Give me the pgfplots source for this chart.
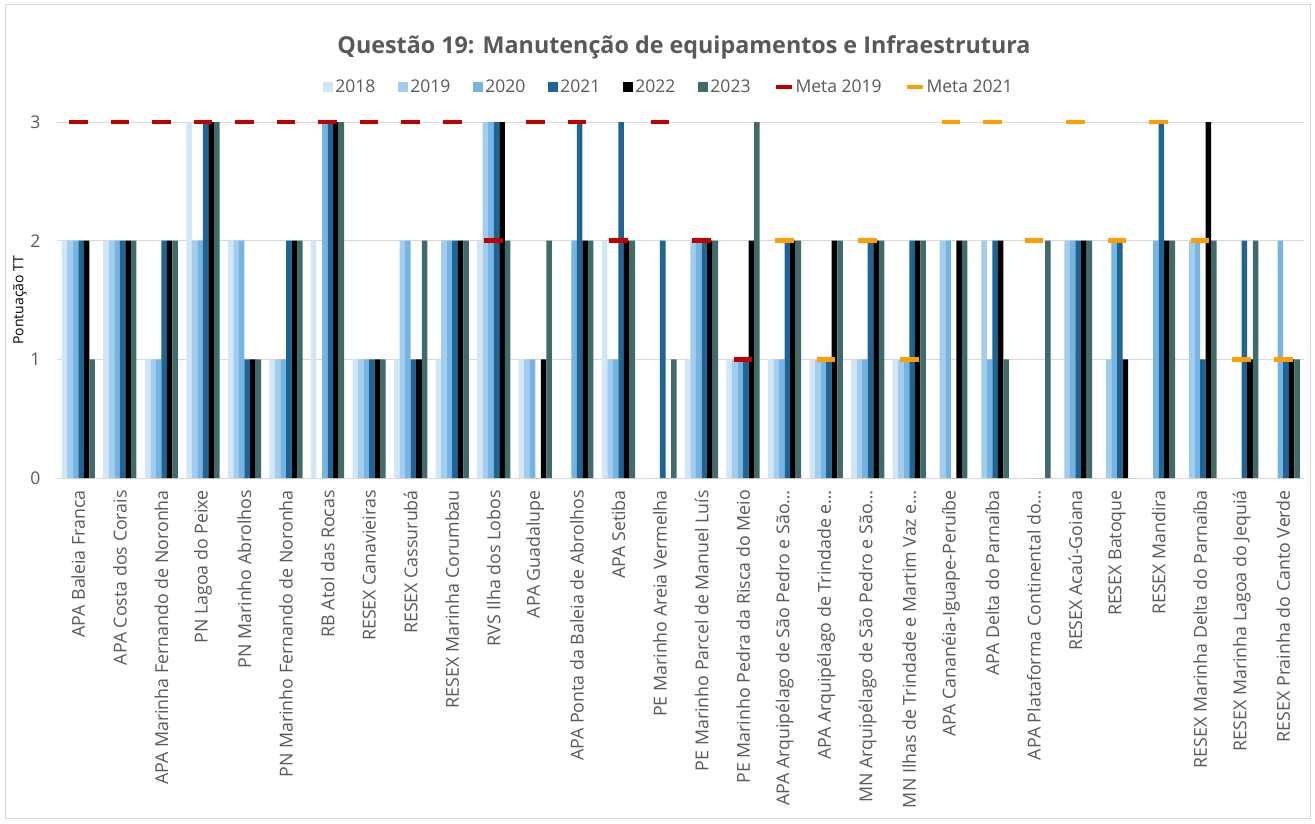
\documentclass[border=0pt]{standalone}
\usepackage{fontspec}
\setmainfont{Open Sans}
\usepackage{pgfplots}
\usepackage{pgfplotstable}
\pgfplotsset{compat=1.18}
\definecolor{c18}{HTML}{D2E6F5}
\definecolor{c19}{HTML}{A3CDEE}
\definecolor{c20}{HTML}{76B4E2}
\definecolor{c21}{HTML}{1F6496}
\definecolor{c22}{HTML}{000000}
\definecolor{c23}{HTML}{406B69}
\definecolor{mred}{HTML}{C00000}
\definecolor{morange}{HTML}{FF9E00}
\definecolor{txt}{HTML}{595959}
\definecolor{gridc}{HTML}{D9D9D9}
\pgfplotstableread{
idx y18 y19 y20 y21 y22 y23
0 2 2 2 2 2 1
1 2 2 2 2 2 2
2 1 1 1 2 2 2
3 3 2 2 3 3 3
4 2 2 2 1 1 1
5 1 1 1 2 2 2
6 2 0 3 3 3 3
7 1 1 1 1 1 1
8 1 2 2 1 1 2
9 1 2 2 2 2 2
10 2 3 3 3 3 2
11 1 1 1 0 1 2
12 0 0 2 3 2 2
13 2 1 1 3 2 2
14 0 0 0 2 0 1
15 1 2 2 2 2 2
16 1 1 1 1 2 3
17 1 1 1 2 2 2
18 1 1 1 1 2 2
19 1 1 1 2 2 2
20 1 1 1 2 2 2
21 0 2 2 0 2 2
22 0 2 1 2 2 1
23 0 0 0 0 0 2
24 0 2 2 2 2 2
25 0 1 2 2 1 0
26 0 0 2 3 2 2
27 0 2 2 1 3 2
28 0 0 0 2 1 2
29 0 0 2 1 1 1
}\data
\pgfplotstableread{
idx m
0 3
1 3
2 3
3 3
4 3
5 3
6 3
7 3
8 3
9 3
10 2
11 3
12 3
13 2
14 3
15 2
16 1
}\metaA
\pgfplotstableread{
idx m
17 2
18 1
19 2
20 1
21 3
22 3
23 2
24 3
25 2
26 3
27 2
28 1
29 1
}\metaB
\begin{document}
\begin{tikzpicture}[x=1pt,y=1pt]
\path (0,0) rectangle (1315,823);
\draw[gridc, line width=1pt] (5.5,4.5) rectangle (1310.5,818.5);
\begin{axis}[
  at={(57.5pt,345pt)}, anchor=south west,
  scale only axis, width=1246.5pt, height=356pt,
  xmin=-0.5, xmax=29.5, ymin=0, ymax=3,
  clip=false,
  axis line style={draw=none},
  ymajorgrids, grid style={gridc, line width=1pt},
  xtick={0,...,29},
  xticklabels={APA Baleia Franca, APA Costa dos Corais, APA Marinha Fernando de Noronha, PN Lagoa do Peixe, PN Marinho Abrolhos, PN Marinho Fernando de Noronha, RB Atol das Rocas, RESEX Canavieiras, RESEX Cassurubá, RESEX Marinha Corumbau, RVS Ilha dos Lobos, APA Guadalupe, APA Ponta da Baleia de Abrolhos, APA Setiba, PE Marinho Areia Vermelha, PE Marinho Parcel de Manuel Luís, PE Marinho Pedra da Risca do Meio, APA Arquipélago de São Pedro e São…, APA Arquipélago de Trindade e…, MN Arquipélago de São Pedro e São…, MN Ilhas de Trindade e Martim Vaz e…, APA Cananéia-Iguape-Peruíbe, APA Delta do Parnaíba, APA Plataforma Continental do…, RESEX Acaú-Goiana, RESEX Batoque, RESEX Mandira, RESEX Marinha Delta do Parnaíba, RESEX Marinha Lagoa do Jequiá, RESEX Prainha do Canto Verde},
  xtick style={draw=none}, ytick style={draw=none},
  xticklabel style={rotate=90, anchor=east, font=\fontsize{17.8}{20}\selectfont, text=txt, inner sep=0pt},
  xticklabel shift=12pt,
  ytick={0,1,2,3},
  yticklabel style={font=\fontsize{17.5}{20}\selectfont, text=txt, inner sep=0pt},
  yticklabel shift=17pt,
  /pgf/number format/assume math mode=true,
  legend columns=-1,
  legend style={draw=none, at={(0.4906,1.0983)}, anchor=center,
    font=\fontsize{17.5}{20}\selectfont, text=txt,
    /tikz/every even column/.append style={column sep=21pt},
    /tikz/every odd column/.append style={column sep=0pt}},
  sqleg/.style={legend image code/.code={\fill (0pt,-5pt) rectangle (10pt,5pt);}},
  lnleg/.style={legend image code/.code={\draw[line width=4pt] (0pt,0pt) -- (16pt,0pt);}},
]
\addplot[ybar, bar width=5.54pt, bar shift=-13.85pt, fill=c18, draw=none, sqleg] table[x=idx,y=y18] {\data};
\addlegendentry{2018}
\addplot[ybar, bar width=5.54pt, bar shift=-8.31pt, fill=c19, draw=none, sqleg] table[x=idx,y=y19] {\data};
\addlegendentry{2019}
\addplot[ybar, bar width=5.54pt, bar shift=-2.77pt, fill=c20, draw=none, sqleg] table[x=idx,y=y20] {\data};
\addlegendentry{2020}
\addplot[ybar, bar width=5.54pt, bar shift=2.77pt, fill=c21, draw=none, sqleg] table[x=idx,y=y21] {\data};
\addlegendentry{2021}
\addplot[ybar, bar width=5.54pt, bar shift=8.31pt, fill=c22, draw=none, sqleg] table[x=idx,y=y22] {\data};
\addlegendentry{2022}
\addplot[ybar, bar width=5.54pt, bar shift=13.85pt, fill=c23, draw=none, sqleg] table[x=idx,y=y23] {\data};
\addlegendentry{2023}
\addplot[mred, only marks, mark=-, mark size=9.3pt, mark options={line width=4.5pt}, lnleg] table[x=idx,y=m] {\metaA};
\addlegendentry{Meta 2019}
\addplot[morange, only marks, mark=-, mark size=9.3pt, mark options={line width=4.5pt}, lnleg] table[x=idx,y=m] {\metaB};
\addlegendentry{Meta 2021}
\end{axis}
\node[font=\bfseries\fontsize{23.3}{26}\selectfont, text=txt] at (684,776) {Questão 19: Manutenção de equipamentos e Infraestrutura};
\node[font=\fontsize{14}{16}\selectfont, text=black, rotate=90] at (20,523) {Pontuação TT};
\end{tikzpicture}
\end{document}
